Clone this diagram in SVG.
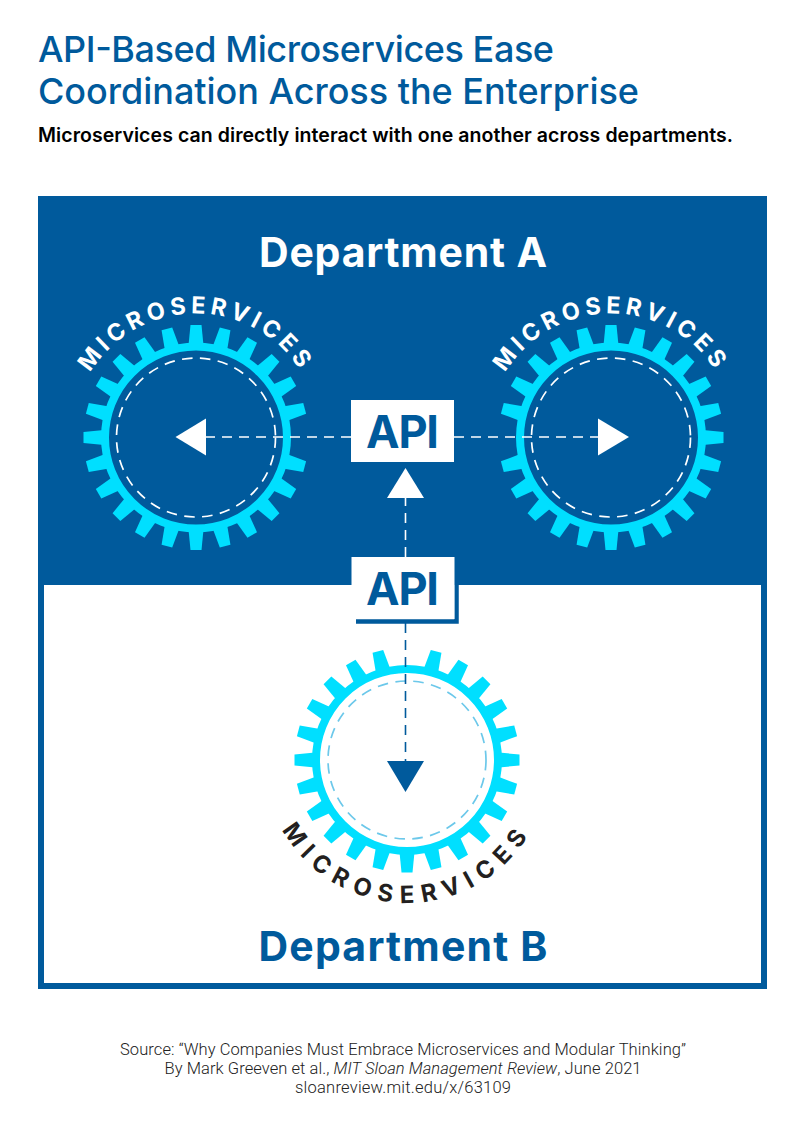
<svg xmlns="http://www.w3.org/2000/svg" width="800" height="1132" viewBox="0 0 800 1132">
<style>
text{font-family:Inter,"Liberation Sans",sans-serif}
.title{font-size:36px;font-weight:500;fill:#005a9c}
.sub{font-size:19.500px;font-weight:600;fill:#000}
.dept{font-size:41px;font-weight:700;text-anchor:middle}
.api{font-size:45px;font-weight:700;fill:#005a9c;text-anchor:middle}
.ms{font-size:23.500px;font-weight:700;text-anchor:middle;letter-spacing:4.500px}
.msb{font-size:24px;letter-spacing:8px}
.foot{font-family:Roboto,"Liberation Sans",sans-serif;font-size:16.500px;font-weight:300;fill:#222;text-anchor:middle}
.ring{fill:none;stroke:#00dfff;stroke-width:8}
.tooth{fill:#00dfff}
.dash{fill:none;stroke-width:1.6;stroke-dasharray:10 7}
.cdash{fill:none;stroke-width:1.7;stroke-dasharray:10.500 7.500}
.white{stroke:#fff}
.blue{stroke:#005a9c}
.light{stroke:#6cc8ea}
</style>
<defs>
<polygon id="t" class="tooth" points="-7.5,-92 -5.5,-112.500 5.500,-112.500 7.500,-92"/>
<g id="gear">
<circle class="ring" r="91"/>
<use href="#t"/>
<use href="#t" transform="rotate(15)"/>
<use href="#t" transform="rotate(30)"/>
<use href="#t" transform="rotate(45)"/>
<use href="#t" transform="rotate(60)"/>
<use href="#t" transform="rotate(75)"/>
<use href="#t" transform="rotate(105)"/>
<use href="#t" transform="rotate(120)"/>
<use href="#t" transform="rotate(135)"/>
<use href="#t" transform="rotate(150)"/>
<use href="#t" transform="rotate(165)"/>
<use href="#t" transform="rotate(180)"/>
<use href="#t" transform="rotate(195)"/>
<use href="#t" transform="rotate(210)"/>
<use href="#t" transform="rotate(225)"/>
<use href="#t" transform="rotate(240)"/>
<use href="#t" transform="rotate(255)"/>
<use href="#t" transform="rotate(270)"/>
<use href="#t" transform="rotate(285)"/>
<use href="#t" transform="rotate(300)"/>
<use href="#t" transform="rotate(315)"/>
<use href="#t" transform="rotate(330)"/>
<use href="#t" transform="rotate(345)"/>
</g>
<path id="arcL" d="M72,437.500 A124,124 0 0 1 320,437.500"/>
<path id="arcR" d="M487,437.500 A124,124 0 0 1 735,437.500"/>
<path id="arcB" d="M264,760 A143,143 0 0 0 550,760"/>
</defs>
<g id="heading">
<text class="title" x="38" y="62" textLength="516">API-Based Microservices Ease</text>
<text class="title" x="38" y="104" textLength="601">Coordination Across the Enterprise</text>
<text class="sub" x="38" y="142" textLength="695">Microservices can directly interact with one another across departments.</text>
</g>
<g id="department-a">
<rect x="38" y="196" width="729" height="389" fill="#005a9c"/>
<text class="dept" x="403" y="267" fill="#fff" textLength="288">Department A</text>
</g>
<g id="department-b">
<path d="M41,585V986H764V585" fill="#fff" stroke="#005a9c" stroke-width="6"/>
<text class="dept" x="403" y="961" fill="#005a9c" textLength="289">Department B</text>
</g>
<g id="gear-left">
<use href="#gear" transform="translate(196,437.500)"/>
<circle class="cdash white" cx="196" cy="437.500" r="79.500"/>
<text class="ms" fill="#fff"><textPath href="#arcL" startOffset="50%">MICROSERVICES</textPath></text>
</g>
<g id="gear-right">
<use href="#gear" transform="translate(611,437.500) rotate(180)"/>
<circle class="cdash white" cx="611" cy="437.500" r="79.500"/>
<text class="ms" fill="#fff"><textPath href="#arcR" startOffset="50%">MICROSERVICES</textPath></text>
</g>
<g id="gear-bottom">
<use href="#gear" transform="translate(407,760) rotate(-90)"/>
<circle class="cdash light" cx="407" cy="760" r="79"/>
<text class="ms msb" fill="#231f20"><textPath href="#arcB" startOffset="50%">MICROSERVICES</textPath></text>
</g>
<g id="connectors">
<path class="dash white" d="M351,437H206"/>
<path class="dash white" d="M454,437H598"/>
<path class="dash white" d="M405.500,557V498"/>
<path class="dash blue" d="M405.500,623V761"/>
<polygon points="175.500,437 206,418.500 206,455.500" fill="#fff"/>
<polygon points="629,437 598,418.500 598,455.500" fill="#fff"/>
<polygon points="405.500,468 387,498 424,498" fill="#fff"/>
<polygon points="405.500,792 387,761 424,761" fill="#005a9c"/>
</g>
<g id="api-a">
<rect x="351" y="400" width="103" height="62" fill="#fff"/>
<text class="api" x="402.500" y="448" textLength="73">API</text>
</g>
<g id="api-b">
<path d="M356,621.500H456.500V585" fill="none" stroke="#005a9c" stroke-width="4.500"/>
<rect x="351.500" y="557" width="103" height="62" fill="#fff"/>
<text class="api" x="402.500" y="604.500" textLength="73">API</text>
</g>
<g id="source">
<text class="foot" x="403" y="1055" textLength="566">Source: “Why Companies Must Embrace Microservices and Modular Thinking”</text>
<text class="foot" x="403" y="1074" textLength="477">By Mark Greeven et al., <tspan font-style="italic">MIT Sloan Management Review</tspan>, June 2021</text>
<text class="foot" x="403" y="1093" textLength="216">sloanreview.mit.edu/x/63109</text>
</g>
</svg>
